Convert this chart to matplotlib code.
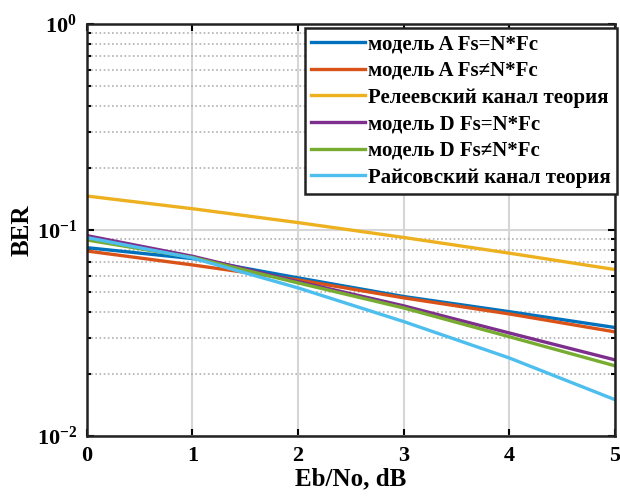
import numpy as np
import matplotlib
matplotlib.use("Agg")
import matplotlib.pyplot as plt

plt.rcParams['font.family'] = ['Liberation Serif', 'DejaVu Serif']
plt.rcParams['font.weight'] = 'bold'
plt.rcParams['mathtext.fontset'] = 'custom'
plt.rcParams['mathtext.rm'] = 'Liberation Serif:bold'
plt.rcParams['mathtext.it'] = 'Liberation Serif:bold'
plt.rcParams['mathtext.bf'] = 'Liberation Serif:bold'

ebno = [0, 1, 2, 3, 4, 5]
ber_a_sync = [0.082, 0.0726, 0.0585, 0.0475, 0.0401, 0.0336]
ber_a_async = [0.079, 0.0676, 0.0572, 0.0468, 0.0391, 0.0320]
ber_rayleigh = [0.146, 0.1267, 0.1085, 0.0919, 0.0771, 0.0642]
ber_d_sync = [0.0938, 0.0745, 0.0561, 0.0428, 0.0316, 0.0234]
ber_d_async = [0.0894, 0.0735, 0.0553, 0.0418, 0.0303, 0.0219]
ber_rice = [0.0918, 0.0731, 0.0523, 0.0359, 0.0239, 0.0150]

labels = ['модель A Fs=N*Fc', 'модель A Fs≠N*Fc', 'Релеевский канал теория',
          'модель D Fs=N*Fc', 'модель D Fs≠N*Fc', 'Райсовский канал теория']
colors = ['#0072BD', '#D95319', '#EDB120', '#7E2F8E', '#77AC30', '#4DBEEE']
series = [ber_a_sync, ber_a_async, ber_rayleigh, ber_d_sync, ber_d_async, ber_rice]

fig = plt.figure(figsize=(6.2, 4.96), dpi=100, facecolor='white')
ax = fig.add_axes([0.140, 0.121, 0.852, 0.831])
for s, c, l in zip(series, colors, labels):
    ax.semilogy(ebno, s, color=c, lw=2.4, label=l)

ax.set_xlim(0, 5)
ax.set_ylim(1e-2, 1)
ax.set_xticks(ebno)
ax.grid(True, which='major', color='#d6d6d6', lw=1.5, ls='-')
ax.grid(True, which='minor', axis='y', color='#b0b0b0', lw=1.2, ls=(0, (1, 1.5)))
ax.tick_params(which='both', direction='in', top=True, right=True, labelsize=16, width=1.5)
ax.tick_params(which='major', length=5, pad=7)
ax.tick_params(which='minor', length=3)
for sp in ax.spines.values():
    sp.set_linewidth(1.8)
    sp.set_color('#222222')
ax.set_xlabel('Eb/No, dB', fontsize=18, fontweight='bold', labelpad=1)
ax.set_ylabel('BER', fontsize=18, fontweight='bold', labelpad=2)

leg = ax.legend(loc='upper right', bbox_to_anchor=(1.004, 0.99), fontsize=15,
                handlelength=2.6, handletextpad=0.15, labelspacing=0.32, borderpad=0.3,
                borderaxespad=0.0, fancybox=False, framealpha=1, edgecolor='#222222')
leg.get_frame().set_linewidth(1.8)

fig.savefig('out.png', dpi=100)
